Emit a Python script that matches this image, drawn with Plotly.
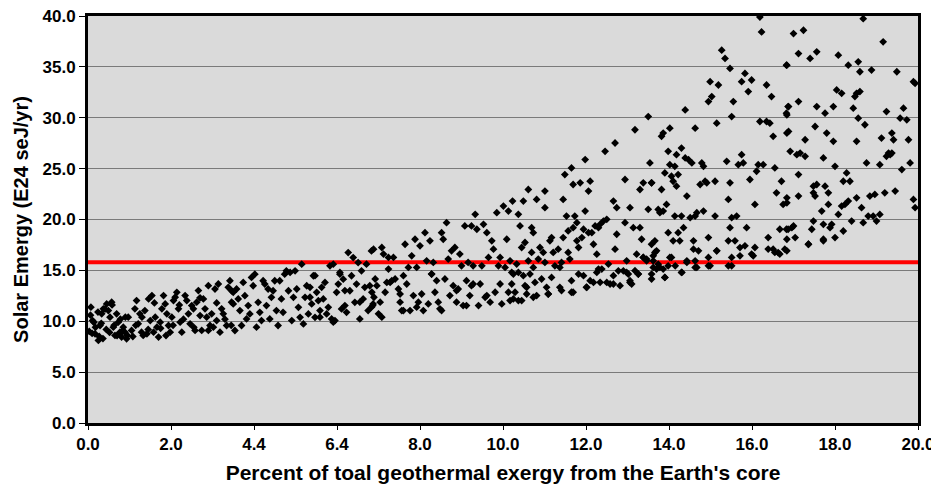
import plotly.graph_objects as go

# ---- data (x = % of geothermal exergy from core, y = solar emergy E24 seJ/yr)
band_a = [  # x 0 - 3.5
    (0.07, 11.38), (0.11, 10.07), (0.17, 8.77), (0.25, 8.12), (0.29, 9.58), (0.33, 10.73), (0.37, 11.22),
    (0.45, 11.70), (0.49, 11.05), (0.53, 10.40), (0.57, 11.87), (0.61, 9.42), (0.65, 8.61), (0.69, 10.73),
    (0.73, 9.91), (0.77, 8.93), (0.81, 8.44), (0.85, 9.42), (0.89, 8.93), (0.93, 8.28), (0.97, 10.40),
    (1.05, 9.10), (1.13, 11.22), (1.17, 12.03), (1.21, 9.75), (1.25, 10.73), (1.29, 8.93), (1.33, 8.61),
    (1.37, 11.05), (1.42, 8.77), (1.46, 12.19), (1.50, 10.07), (1.54, 12.52), (1.58, 8.93), (1.62, 10.40),
    (1.66, 9.42), (1.70, 8.44), (1.74, 9.91), (1.78, 11.22), (1.82, 12.52), (1.86, 11.70), (1.90, 10.73),
    (1.94, 9.58), (1.98, 8.93), (2.02, 10.40), (2.06, 12.03), (2.10, 12.36), (2.14, 12.84), (2.18, 11.22),
    (2.22, 9.91), (2.26, 8.93), (2.34, 12.52), (2.38, 12.03), (2.42, 10.73), (2.46, 9.75), (2.50, 11.54),
    (2.54, 11.22), (2.58, 9.10), (2.62, 11.87), (2.66, 13.01), (2.70, 10.56), (2.74, 9.10), (2.78, 12.19),
    (2.82, 11.22), (2.86, 10.40), (2.90, 13.50), (2.94, 9.58), (2.98, 10.73), (3.02, 9.42), (3.06, 13.17),
    (3.10, 10.07), (3.14, 13.66), (3.18, 8.93), (3.22, 11.22), (3.26, 10.73), (3.34, 9.58), (3.38, 13.33),
    (3.42, 13.98), (3.46, 11.87), (3.50, 12.84),
    (0.03, 9.0), (0.06, 10.6), (0.10, 8.8), (0.14, 9.9), (0.18, 9.4), (0.24, 10.9), (0.27, 8.5),
    (0.32, 9.8), (0.36, 8.3), (0.41, 11.2), (0.44, 9.2), (0.52, 8.9), (0.58, 11.6), (0.63, 9.6),
    (0.70, 8.6), (0.78, 10.2), (0.83, 9.0), (0.90, 10.4), (0.95, 8.6), (1.08, 8.5), (1.15, 9.6),
    (1.30, 10.4), (1.45, 9.2), (1.60, 11.8), (1.75, 9.3), (1.88, 8.6), (2.05, 9.6), (2.20, 11.6),
    (2.30, 10.2), (2.55, 9.4), (2.70, 12.3), (2.90, 9.1), (3.10, 11.8), (3.30, 10.2), (3.45, 9.6),
]
band_b = [  # x 3.5 - 6.9
    (3.46, 13.00), (3.50, 11.70), (3.54, 9.09), (3.58, 13.17), (3.62, 12.19), (3.66, 11.05), (3.70, 9.58),
    (3.74, 13.82), (3.78, 12.51), (3.82, 10.23), (3.86, 11.54), (3.90, 10.72), (3.94, 14.31), (3.98, 13.49),
    (4.02, 14.63), (4.06, 9.42), (4.10, 11.86), (4.14, 10.88), (4.18, 10.07), (4.22, 13.98), (4.26, 13.65),
    (4.30, 11.54), (4.34, 13.17), (4.38, 10.23), (4.42, 12.35), (4.46, 13.00), (4.50, 13.98), (4.54, 11.05),
    (4.58, 9.58), (4.62, 13.98), (4.66, 12.19), (4.70, 10.88), (4.74, 14.63), (4.78, 14.96), (4.83, 13.00),
    (4.87, 14.80), (4.91, 10.07), (4.95, 12.35), (4.99, 14.96), (5.03, 13.17), (5.07, 11.37), (5.11, 10.39),
    (5.15, 15.61), (5.19, 9.74), (5.23, 12.35), (5.27, 13.49), (5.31, 10.72), (5.35, 13.33), (5.39, 11.70),
    (5.43, 14.47), (5.47, 10.39), (5.51, 12.84), (5.55, 12.02), (5.59, 11.05), (5.63, 13.33), (5.67, 12.19),
    (5.71, 13.82), (5.75, 10.72), (5.79, 11.37), (5.83, 15.45), (5.87, 10.23), (5.91, 15.61), (5.95, 10.07),
    (5.99, 12.84), (6.03, 13.65), (6.07, 14.63), (6.11, 11.21), (6.15, 14.14), (6.19, 11.54), (6.23, 10.88),
    (6.27, 16.75), (6.31, 13.00), (6.35, 14.47), (6.39, 16.26), (6.43, 11.86), (6.47, 13.65), (6.51, 15.77),
    (6.55, 10.23), (6.59, 14.96), (6.63, 12.19), (6.67, 13.33), (6.71, 15.61), (6.75, 11.05), (6.79, 13.49),
    (6.83, 16.91), (6.87, 11.70),
    (5.35, 12.36), (5.47, 14.48), (5.59, 10.40), (5.91, 9.91), (6.07, 14.80), (6.19, 13.01), (6.55, 11.87),
    (6.83, 11.38),
]
band_c = [  # x 6.9 - 10.3
    (6.84, 12.85), (6.86, 11.54), (6.88, 17.08), (6.89, 12.36), (6.92, 14.15), (6.96, 13.50), (7.00, 10.73),
    (7.04, 11.87), (7.08, 17.25), (7.12, 16.60), (7.16, 12.85), (7.20, 13.82), (7.24, 15.13), (7.24, 16.27),
    (7.28, 13.82), (7.32, 13.99), (7.36, 16.27), (7.40, 14.15), (7.48, 13.17), (7.52, 11.87), (7.56, 11.05),
    (7.60, 14.48), (7.64, 17.57), (7.68, 13.66), (7.72, 15.29), (7.76, 11.05), (7.80, 16.43), (7.84, 12.52),
    (7.88, 18.06), (7.92, 15.29), (7.96, 11.87), (8.00, 17.41), (8.04, 12.68), (8.08, 11.05), (8.12, 18.71),
    (8.16, 15.94), (8.20, 11.70), (8.24, 17.90), (8.28, 14.64), (8.32, 15.78), (8.36, 12.85), (8.40, 13.99),
    (8.44, 11.87), (8.48, 11.22), (8.52, 18.71), (8.56, 18.06), (8.60, 14.15), (8.64, 19.69), (8.68, 16.11),
    (8.72, 12.52), (8.76, 16.92), (8.80, 13.50), (8.84, 17.25), (8.88, 11.87), (8.92, 13.17), (8.96, 16.60),
    (9.00, 15.45), (9.04, 11.54), (9.08, 19.37), (9.12, 13.99), (9.16, 15.78), (9.20, 12.52), (9.24, 19.37),
    (9.24, 13.50), (9.28, 15.45), (9.33, 20.51), (9.37, 19.04), (9.41, 11.54), (9.45, 13.66), (9.49, 15.45),
    (9.53, 19.53), (9.57, 12.36), (9.61, 18.71), (9.65, 16.27), (9.69, 11.87), (9.73, 17.90), (9.77, 17.08),
    (9.81, 12.85), (9.85, 20.67), (9.89, 15.45), (9.93, 16.27), (9.97, 11.70), (10.01, 21.32), (10.05, 15.29),
    (10.09, 18.06), (10.13, 20.83), (10.13, 12.85), (10.17, 15.94), (10.21, 14.80), (10.25, 12.19),
    (7.08, 10.40), (7.52, 12.68), (7.60, 11.05), (7.92, 11.38), (8.28, 14.64), (8.52, 11.05), (8.88, 13.01),
    (9.12, 11.54), (9.28, 13.66), (9.61, 12.52), (9.93, 13.66), (10.17, 12.03),
]
band_d = [  # x 10.2 - 13.7
    (10.21, 13.66), (10.23, 21.81), (10.25, 14.64), (10.29, 12.85), (10.33, 15.62), (10.37, 12.03),
    (10.37, 20.51), (10.41, 19.37), (10.45, 12.03), (10.45, 17.25), (10.49, 21.81), (10.49, 14.48),
    (10.53, 13.50), (10.53, 17.74), (10.57, 12.68), (10.61, 22.95), (10.61, 15.94), (10.65, 14.64),
    (10.69, 16.76), (10.69, 19.20), (10.73, 15.29), (10.73, 18.71), (10.77, 13.82), (10.81, 21.97),
    (10.81, 12.52), (10.85, 16.11), (10.89, 17.25), (10.93, 14.15), (10.97, 16.76), (11.01, 22.79),
    (11.01, 21.16), (11.01, 15.78), (11.05, 13.33), (11.09, 12.68), (11.13, 17.90), (11.17, 18.22),
    (11.17, 14.31), (11.21, 16.76), (11.25, 15.45), (11.33, 17.08), (11.37, 15.29), (11.37, 13.33),
    (11.41, 15.78), (11.45, 18.22), (11.45, 21.97), (11.49, 24.42), (11.53, 20.34), (11.57, 16.76),
    (11.57, 18.88), (11.61, 16.11), (11.65, 25.07), (11.65, 13.99), (11.65, 12.85), (11.69, 23.44),
    (11.69, 19.20), (11.73, 20.34), (11.78, 19.69), (11.78, 17.90), (11.82, 17.25), (11.82, 14.64),
    (11.86, 23.60), (11.90, 18.22), (11.94, 19.04), (11.94, 14.48), (11.98, 25.89), (11.98, 20.83),
    (12.02, 13.33), (12.06, 22.79), (12.06, 18.71), (12.10, 23.77), (12.10, 13.99), (12.14, 18.71),
    (12.18, 17.57), (12.18, 13.82), (12.22, 19.37), (12.26, 16.59), (12.26, 14.80), (12.30, 15.13),
    (12.30, 19.20), (12.34, 19.53), (12.38, 15.13), (12.42, 19.85), (12.46, 26.70), (12.50, 13.82),
    (12.50, 20.02), (12.54, 15.62), (12.58, 13.66), (12.66, 21.81), (12.66, 14.48), (12.70, 27.52),
    (12.70, 17.08), (12.74, 18.55), (12.74, 21.16), (12.78, 14.96), (12.82, 13.50), (12.90, 14.96),
    (12.94, 23.93), (12.94, 19.69), (12.98, 15.94), (13.02, 14.64), (13.06, 21.16), (13.06, 13.82),
    (13.14, 19.20), (13.18, 28.82), (13.22, 16.59), (13.26, 14.64), (13.30, 22.95), (13.30, 19.20),
    (13.34, 18.06), (13.38, 23.60), (13.38, 16.27), (13.46, 16.11), (13.50, 30.12), (13.50, 21.00),
    (13.54, 25.56), (13.58, 23.60), (13.58, 17.57), (13.62, 15.94),
    (10.37, 14.80), (10.57, 13.34), (10.73, 12.36), (11.09, 12.68), (11.41, 13.01), (11.69, 12.85),
    (12.01, 13.34), (12.34, 13.83), (12.66, 13.66),
    (12.98, 14.80), (13.06, 13.99), (13.10, 13.66), (13.18, 14.97), (13.26, 14.64), (13.38, 16.27),
    (13.46, 15.94), (13.58, 14.15), (13.62, 16.43), (13.66, 16.76),
]
band_e = [  # x 13.6 - 16.9
    (13.58, 23.60), (13.58, 14.64), (13.62, 15.29), (13.66, 17.90), (13.70, 16.92), (13.74, 20.99),
    (13.74, 15.61), (13.78, 20.67), (13.82, 28.17), (13.82, 22.95), (13.86, 28.49), (13.86, 20.83),
    (13.90, 24.58), (13.90, 14.31), (13.94, 21.48), (13.98, 26.70), (13.98, 18.71), (14.02, 28.98),
    (14.02, 25.39), (14.06, 24.25), (14.06, 16.27), (14.10, 23.76), (14.10, 17.90), (14.14, 25.23),
    (14.14, 20.34), (14.18, 26.37), (14.18, 23.28), (14.22, 24.42), (14.22, 18.71), (14.26, 17.90),
    (14.30, 27.02), (14.30, 20.34), (14.30, 14.80), (14.35, 19.20), (14.39, 30.77), (14.39, 26.05),
    (14.43, 22.30), (14.43, 15.94), (14.47, 25.88), (14.51, 20.18), (14.55, 25.56), (14.59, 17.90),
    (14.59, 17.08), (14.63, 28.98), (14.63, 20.34), (14.63, 15.29), (14.67, 20.67), (14.71, 16.92),
    (14.75, 23.44), (14.79, 25.56), (14.83, 25.23), (14.83, 20.83), (14.87, 23.76), (14.91, 23.60),
    (14.95, 31.59), (14.95, 18.22), (14.95, 15.45), (14.99, 33.55), (15.03, 32.08), (15.11, 23.76),
    (15.11, 20.34), (15.15, 29.47), (15.15, 16.92), (15.19, 33.22), (15.27, 36.64), (15.35, 35.83),
    (15.39, 25.72), (15.43, 21.97), (15.43, 17.90), (15.47, 34.85), (15.47, 23.60), (15.47, 19.20),
    (15.51, 30.12), (15.51, 20.18), (15.51, 15.45), (15.55, 31.59), (15.59, 17.90), (15.63, 20.34),
    (15.67, 25.39), (15.71, 17.24), (15.75, 33.55), (15.75, 26.37), (15.79, 25.56), (15.83, 34.36),
    (15.87, 19.20), (15.91, 32.57), (15.95, 23.93), (15.99, 33.71), (16.03, 16.43), (16.07, 21.48),
    (16.11, 24.74), (16.15, 25.39), (16.19, 39.90), (16.19, 29.63), (16.23, 38.43), (16.27, 25.39),
    (16.35, 33.22), (16.35, 29.63), (16.39, 18.22), (16.43, 29.47), (16.47, 32.08), (16.51, 28.17),
    (16.51, 17.08), (16.55, 25.07), (16.59, 22.62), (16.63, 16.75), (16.67, 19.04), (16.71, 23.76),
    (16.75, 21.48), (16.79, 17.08), (16.83, 35.17), (16.83, 30.45), (16.83, 19.04), (16.88, 31.10),
    (16.88, 28.66),
    (13.70, 15.13), (13.78, 15.29), (13.86, 15.13), (13.90, 14.31), (13.98, 15.45), (14.02, 16.27),
    (14.15, 15.45), (14.31, 14.80), (14.43, 15.78), (14.63, 15.94), (14.67, 15.29), (14.95, 16.27),
    (14.99, 15.45), (15.15, 16.92), (15.43, 15.45), (15.51, 16.27), (15.71, 16.43), (15.83, 17.41),
    (15.99, 16.60), (16.07, 17.25), (16.39, 17.09), (16.55, 16.76), (16.67, 16.60), (16.84, 16.92),
]
band_f = [  # x 16.8 - 20
    (16.84, 35.17), (16.84, 30.28), (16.84, 28.49), (16.84, 22.13), (16.84, 21.64), (16.84, 18.06),
    (16.87, 31.10), (16.87, 19.04), (16.92, 26.70), (16.96, 19.20), (17.00, 38.27), (17.00, 19.36),
    (17.04, 18.22), (17.08, 26.37), (17.12, 36.31), (17.12, 31.59), (17.12, 24.42), (17.12, 22.30),
    (17.16, 26.53), (17.24, 38.60), (17.28, 27.84), (17.28, 26.21), (17.36, 17.57), (17.40, 35.83),
    (17.44, 19.04), (17.48, 23.28), (17.48, 22.62), (17.48, 19.85), (17.52, 29.14), (17.52, 22.30),
    (17.56, 36.48), (17.56, 31.10), (17.56, 23.44), (17.68, 20.83), (17.72, 26.05), (17.72, 19.53),
    (17.72, 18.06), (17.76, 23.28), (17.76, 30.45), (17.80, 28.49), (17.84, 21.48), (17.84, 22.62),
    (17.88, 19.20), (17.92, 19.53), (17.96, 27.68), (17.96, 31.10), (18.00, 18.22), (18.00, 25.23),
    (18.04, 32.73), (18.08, 36.15), (18.08, 20.50), (18.16, 32.40), (18.16, 21.32), (18.20, 23.76),
    (18.20, 18.87), (18.24, 21.48), (18.28, 24.58), (18.32, 35.17), (18.32, 21.81), (18.36, 23.76),
    (18.40, 19.85), (18.44, 30.94), (18.48, 32.08), (18.52, 27.68), (18.52, 22.13), (18.52, 32.40),
    (18.56, 35.50), (18.56, 29.96), (18.60, 34.52), (18.60, 32.57), (18.64, 21.16), (18.68, 19.69),
    (18.68, 39.74), (18.72, 29.31), (18.76, 25.56), (18.80, 20.34), (18.84, 22.30), (18.88, 34.69),
    (18.92, 20.34), (18.96, 22.46), (19.00, 19.85), (19.08, 25.39), (19.08, 20.50), (19.12, 28.00),
    (19.16, 37.46), (19.20, 22.62), (19.24, 26.21), (19.24, 30.61), (19.29, 26.53), (19.33, 26.37),
    (19.37, 28.49), (19.37, 26.53), (19.41, 27.84), (19.45, 22.79), (19.49, 34.52), (19.57, 29.96),
    (19.61, 24.91), (19.65, 30.94), (19.73, 29.80), (19.77, 27.84), (19.81, 25.56), (19.89, 33.55),
    (19.93, 33.38), (19.89, 21.97), (19.93, 21.16), (17.36, 17.57), (17.72, 17.90),
]

x_ticks = [0, 2, 4, 6, 8, 10, 12, 14, 16, 18, 20]
x_tick_labels = ["0.0", "2.0", "4.4", "6.4", "8.0", "10.0", "12.0", "14.0", "16.0", "18.0", "20.0"]
threshold = 15.8

points = band_a + band_b + band_c + band_d + band_e + band_f
xs = [p[0] for p in points]
ys = [p[1] for p in points]

FONT = "Liberation Sans, Arial, sans-serif"

fig = go.Figure()
fig.add_trace(go.Scatter(
    x=[0, 20], y=[threshold, threshold], mode="lines",
    line=dict(color="#ff0000", width=4), hoverinfo="skip", showlegend=False,
))
fig.add_trace(go.Scatter(
    x=xs, y=ys, mode="markers",
    marker=dict(symbol="diamond", size=6, color="black", line=dict(width=0)),
    showlegend=False, cliponaxis=False,
))

# page body has an 8px margin, so the figure is sized/offset to compensate
fig.update_layout(
    width=931, height=482,
    margin=dict(l=80, r=21, t=8, b=67, autoexpand=False),
    paper_bgcolor="white",
    plot_bgcolor="#dadada",
    font=dict(family=FONT, color="black"),
)
fig.update_xaxes(
    range=[0, 20], tickvals=x_ticks, ticktext=x_tick_labels, automargin=False,
    ticklabeloverflow="allow",
    showgrid=False, zeroline=False,
    showline=True, mirror=True, linecolor="black", linewidth=3,
    ticks="outside", ticklen=4, tickcolor="black", tickwidth=1,
    tickfont=dict(size=17, weight="bold"),
    title=dict(text="Percent of toal geothermal exergy from the Earth's core",
               font=dict(size=21, weight="bold"), standoff=12),
)
fig.update_yaxes(
    range=[0, 40], dtick=5, tickformat=".1f", automargin=False,
    ticklabeloverflow="allow",
    showgrid=True, gridcolor="#7a7a7a", gridwidth=1, zeroline=False,
    showline=True, mirror=True, linecolor="black", linewidth=3,
    ticks="outside", ticklen=6, tickcolor="black", tickwidth=1,
    tickfont=dict(size=17, weight="bold"),
    title=dict(text="Solar Emergy (E24 seJ/yr)", font=dict(size=20, weight="bold"), standoff=9),
)

fig.write_html("out.html")
